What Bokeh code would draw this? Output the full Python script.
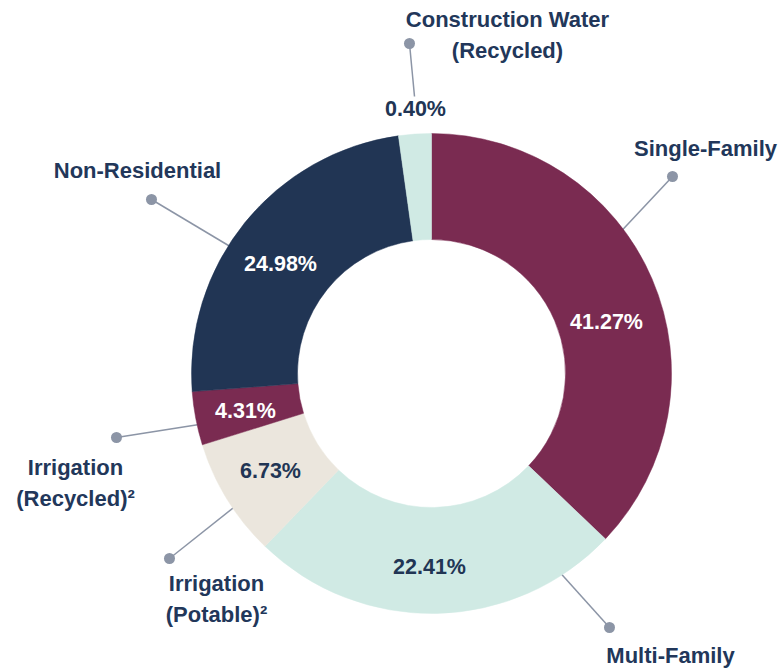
import numpy as np
from bokeh.plotting import figure
from bokeh.models import ColumnDataSource, Range1d
from bokeh.core.properties import value
from bokeh.embed import file_html
from bokeh.resources import INLINE

# ---------------- data ----------------
categories = ["Single-Family", "Multi-Family", "Irrigation (Potable)²",
              "Irrigation (Recycled)²", "Non-Residential", "Construction Water (Recycled)"]
percent = [41.27, 22.41, 6.73, 4.31, 24.98, 0.40]
# share of the ring each slice occupies as drawn in the picture (percent of 360°)
slice_share = [37.1, 25.1, 8.0, 3.6, 24.0, 2.2]
label_lines = [["Single-Family"], ["Multi-Family"], ["Irrigation", "(Potable)²"],
               ["Irrigation", "(Recycled)²"], ["Non-Residential"],
               ["Construction Water", "(Recycled)"]]

# ---------------- styles / layout ----------------
W, H = 781, 668
MAROON, NAVY, MINT, BEIGE = "#7A2B51", "#213554", "#D0EAE4", "#EBE6DD"
slice_colors = [MAROON, MINT, BEIGE, MAROON, NAVY, MINT]
pct_colors = ["white", NAVY, NAVY, "white", "white", NAVY]
TEXT = "#22375A"
LEADER = "#8C95A6"
FONT = value("Liberation Sans")

CX, CY = 431, 373          # pixel centre of the ring
R_IN, R_OUT = 134, 240

# pixel positions of annotations (x, y from top-left)
pct_pos = [(606, 321), (429, 566), (270, 470), (245, 410), (280, 263), (415, 108)]
dot_pos = [(672, 176), (609, 627), (169, 558), (116, 437), (151, 199), (409, 43)]
line_end = [(612, 240), (555, 567), (242, 500), (205, 423), (238, 251), (414, 96)]
label_pos = [(705, 148), (670, 655), (216, 583), (75, 467), (137, 170), (507, 19)]
LINE_GAP = 31


def fy(y):
    return H - y


p = figure(width=W, height=H, x_range=Range1d(0, W), y_range=Range1d(0, H),
           output_backend="svg", toolbar_location=None, min_border=0,
           background_fill_color="white", border_fill_color="white")
p.axis.visible = False
p.grid.visible = False
p.outline_line_color = None

# leader lines (under the ring)
p.segment(x0=[d[0] for d in dot_pos], y0=[fy(d[1]) for d in dot_pos],
          x1=[e[0] for e in line_end], y1=[fy(e[1]) for e in line_end],
          line_color=LEADER, line_width=1.5)
p.scatter(x=[d[0] for d in dot_pos], y=[fy(d[1]) for d in dot_pos],
          size=11, fill_color=LEADER, line_color=None)

# ring slices, clockwise from 12 o'clock
share = np.array(slice_share, dtype=float)
frac = share / share.sum()
cum = np.concatenate([[0.0], np.cumsum(frac)]) * 2 * np.pi
src = ColumnDataSource(dict(
    cat=categories,
    start=np.pi / 2 - cum[:-1],
    end=np.pi / 2 - cum[1:],
    color=slice_colors,
))
p.annular_wedge(x=CX, y=fy(CY), inner_radius=R_IN, outer_radius=R_OUT,
                start_angle="start", end_angle="end", direction="clock",
                fill_color="color", line_color="color", line_width=0.5, source=src)

# percentage labels
p.text(x=[q[0] for q in pct_pos], y=[fy(q[1]) for q in pct_pos],
       text=[f"{v:.2f}%" for v in percent], text_color=pct_colors,
       text_font=FONT, text_font_style="bold", text_font_size="21.5px",
       text_align="center", text_baseline="middle")

# category labels
lx, ly, lt = [], [], []
for (x, y), lines in zip(label_pos, label_lines):
    for i, t in enumerate(lines):
        lx.append(x)
        ly.append(fy(y + i * LINE_GAP))
        lt.append(t)
p.text(x=lx, y=ly, text=lt, text_color=TEXT, text_font=FONT,
       text_font_style="bold", text_font_size="22px",
       text_align="center", text_baseline="middle")

open("out.html", "w").write(file_html(p, INLINE))
